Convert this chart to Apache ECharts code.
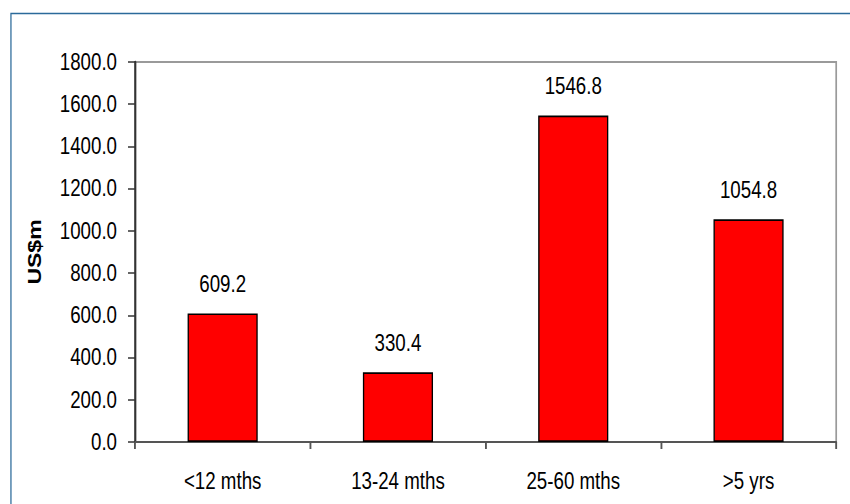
<!DOCTYPE html>
<html>
<head>
<meta charset="utf-8">
<script src="https://cdn.jsdelivr.net/npm/echarts@6/dist/echarts.min.js"></script>
<style>
  html, body { margin: 0; padding: 0; background: #fff; overflow: hidden; }
  #frame { width: 850px; height: 504px; overflow: hidden; position: relative; }
  #chart { height: 504px; transform-origin: 0 0; position: absolute; left: 0; top: 0; }
</style>
</head>
<body>
<div id="frame"><div id="chart"></div></div>
<script>
// Maturity buckets and outstanding amounts (US$m)
const categories = ['<12 mths', '13-24 mths', '25-60 mths', '>5 yrs'];
const amounts = [609.2, 330.4, 1546.8, 1054.8];
const yTicks = { min: 0, max: 1800, step: 200 };
const yAxisTitle = 'US$m';

// The chart is laid out in a wider box and squeezed horizontally,
// which gives the condensed lettering of the original report style.
const sx = 0.78;
const X = px => px / sx;            // screen px -> layout px (horizontal)
const el = document.getElementById('chart');
el.style.width = X(850) + 'px';
el.style.transform = 'scaleX(' + sx + ')';

const font = '"Liberation Sans", Arial, Helvetica, sans-serif';

const chart = echarts.init(el, null, { renderer: 'svg' });

chart.setOption({
  animation: false,
  backgroundColor: '#ffffff',
  graphic: [{
    type: 'rect',
    left: X(9), top: 11,
    shape: { width: X(900), height: 600 },
    style: { fill: 'none', stroke: '#2b6a9a', lineWidth: 1.6 },
    silent: true, z: -1
  }],
  grid: {
    left: X(135), top: 62, right: X(14), bottom: 62,
    show: true,
    borderColor: '#9a9a9a',
    borderWidth: 2.2,
    backgroundColor: 'transparent'
  },
  xAxis: {
    type: 'category',
    data: categories,
    boundaryGap: true,
    axisLine: { show: true, lineStyle: { color: '#555', width: 2 } },
    axisTick: { show: true, alignWithLabel: false, length: 7, lineStyle: { color: '#555', width: 2.4 } },
    axisLabel: { color: '#000', fontFamily: font, fontSize: 24, margin: 27 },
    splitLine: { show: false }
  },
  yAxis: {
    type: 'value',
    min: yTicks.min,
    max: yTicks.max,
    interval: yTicks.step,
    name: yAxisTitle,
    nameLocation: 'middle',
    nameGap: 117,
    nameTextStyle: { color: '#000', fontFamily: font, fontWeight: 'bold', fontSize: 23 },
    axisLine: { show: true, lineStyle: { color: '#333', width: 2.6 } },
    axisTick: { show: true, length: X(7), lineStyle: { color: '#333', width: 1.5 } },
    axisLabel: {
      color: '#000', fontFamily: font, fontSize: 24, margin: X(18),
      formatter: v => v.toFixed(1)
    },
    splitLine: { show: false }
  },
  series: [{
    type: 'bar',
    data: amounts,
    barWidth: '40%',
    itemStyle: { color: '#ff0000', borderColor: '#000', borderWidth: 1.7 },
    label: {
      show: true,
      position: 'top',
      distance: 17,
      color: '#000',
      fontFamily: font,
      fontSize: 24,
      formatter: p => p.value.toFixed(1)
    }
  }]
});
</script>
</body>
</html>
